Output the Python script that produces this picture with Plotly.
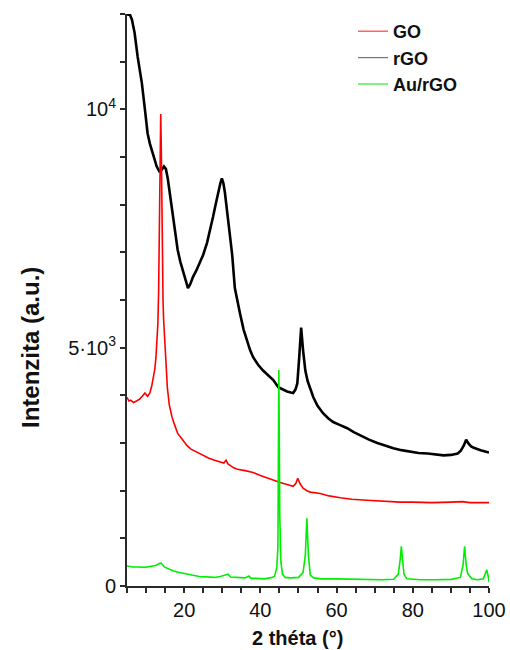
import plotly.graph_objects as go

# XRD patterns: 2θ (degrees) vs. intensity (a.u.)
rgo_x = [5.0, 5.8, 6.3, 7.0, 7.8, 8.9, 9.7, 10.4, 11.0, 11.5, 12.2, 12.8, 13.5, 14.1, 14.7,
         15.2, 15.7, 16.2, 16.8, 17.6, 18.3, 19.0, 19.7, 20.4, 21.0, 21.6, 22.3, 23.2, 24.1,
         25.0, 26.0, 26.8, 27.6, 28.3, 28.9, 29.5, 29.9, 30.3, 30.7, 31.1, 31.5, 32.0, 32.6,
         33.3, 34.0, 34.7, 35.6, 36.5, 37.3, 38.1, 39.4, 40.7, 42.0, 43.4, 44.7, 46.0, 47.0,
         48.0, 48.6, 49.2, 49.7, 50.2, 50.7, 51.2, 51.8, 52.4, 53.1, 53.9, 55.0, 56.5, 57.8,
         59.1, 60.5, 61.8, 62.8, 64.5, 66.2, 68.5, 70.7, 72.8, 74.9, 77.0, 79.4, 81.5, 83.9,
         86.0, 88.1, 90.0, 91.8, 92.6, 93.4, 94.0, 94.6, 95.3, 96.0, 97.8, 99.0, 100.0]
rgo_y = [11990, 11980, 11880, 11600, 11100, 10550, 10000, 9500, 9280, 9150, 8950, 8800, 8700,
         8730, 8800, 8750, 8550, 8250, 8000, 7470, 7050, 6800, 6600, 6380, 6250, 6330, 6480,
         6620, 6780, 6950, 7200, 7450, 7750, 8020, 8250, 8450, 8550, 8450, 8250, 8000, 7700,
         7380, 6950, 6250, 5950, 5700, 5380, 5150, 4950, 4800, 4640, 4520, 4420, 4320, 4170,
         4110, 4080, 4060, 4050, 4120, 4250, 4800, 5420, 4950, 4520, 4300, 4150, 3960, 3780,
         3620, 3520, 3440, 3390, 3350, 3310, 3230, 3160, 3070, 3000, 2940, 2890, 2850, 2810,
         2790, 2780, 2760, 2740, 2750, 2780, 2840, 2950, 3070, 2990, 2930, 2900, 2850, 2830,
         2800]

go_x = [5.0, 5.5, 6.0, 6.7, 7.5, 8.3, 9.0, 9.7, 10.4, 11.0, 11.5, 11.9, 12.3, 12.6, 12.9,
        13.1, 13.3, 13.5, 13.7, 13.85, 14.0, 14.15, 14.3, 14.45, 14.6, 14.9, 15.2, 15.6, 16.1,
        16.8, 17.5, 18.3, 19.5, 20.7, 21.8, 22.8, 24.0, 25.0, 26.5, 28.0, 29.4, 30.4, 31.0,
        31.5, 33.0, 34.0, 36.0, 38.1, 40.0, 42.6, 44.0, 45.2, 47.0, 48.6, 49.3, 49.8, 50.4,
        51.2, 52.2, 53.1, 55.7, 58.0, 61.0, 64.0, 68.0, 72.0, 76.7, 80.0, 85.0, 90.0, 93.0,
        95.0, 100.0]
go_y = [3960, 3880, 3900, 3850, 3880, 3920, 3980, 4050, 3980, 4050, 4200, 4350, 4550, 4800,
        5150, 5500, 6200, 7300, 8600, 9900, 9200, 7600, 6600, 6000, 5600, 5150, 4700, 4150,
        3800, 3550, 3380, 3200, 3080, 2950, 2870, 2830, 2780, 2730, 2680, 2640, 2600, 2580,
        2640, 2560, 2480, 2450, 2420, 2380, 2320, 2240, 2200, 2170, 2130, 2090, 2150, 2260,
        2150, 2050, 2000, 1970, 1940, 1890, 1850, 1820, 1800, 1780, 1760, 1760, 1750, 1760,
        1770, 1750, 1750]

au_x = [5.0, 6.5, 8.0, 9.5, 11.0, 12.5, 13.5, 14.0, 14.8, 15.7, 17.0, 18.5, 20.0, 22.0, 24.0,
        26.0, 28.0, 29.5, 30.8, 31.5, 32.2, 34.0, 36.0, 37.0, 37.5, 39.0, 41.0, 42.5, 43.7,
        44.3, 44.6, 44.85, 45.1, 45.4, 45.8, 46.5, 48.0, 50.0, 51.2, 51.8, 52.2, 52.6, 53.1,
        54.0, 56.0, 60.0, 64.0, 68.0, 72.0, 75.0, 76.2, 76.7, 77.0, 77.3, 77.7, 78.5, 82.0,
        86.0, 90.0, 92.5, 93.2, 93.6, 94.0, 94.4, 95.5, 97.0, 98.5, 99.1, 99.4, 99.8, 100.0]
au_y = [420, 400, 400, 390, 410, 430, 470, 480, 400, 360, 320, 290, 260, 230, 200, 190, 180,
        200, 230, 250, 190, 180, 170, 210, 160, 160, 150, 170, 200, 380, 800, 4530, 1450, 500,
        250, 180, 170, 180, 280, 650, 1420, 650, 230, 170, 150, 150, 140, 130, 130, 140, 250,
        560, 830, 560, 240, 150, 130, 130, 140, 180, 450, 830, 450, 260, 150, 130, 150, 270,
        340, 200, 80]

y_tickvals = [0, 5000, 10000]
y_ticktext = ["0", "5·10<sup>3</sup>", "10<sup>4</sup>"]

series_names = ["GO", "rGO", "Au/rGO"]
legend_colors = ["#ff4a4a", "#7a7a7a", "#3dea3d"]

FONT = "Liberation Sans, Arial, sans-serif"
AXIS_COLOR = "#2a2a2a"
TEXT_COLOR = "#111111"

fig = go.Figure()
# data curves (rGO underneath, then GO and Au/rGO on top)
fig.add_trace(go.Scatter(x=rgo_x, y=rgo_y, mode="lines", showlegend=False,
                         line=dict(color="#000000", width=2.6)))
fig.add_trace(go.Scatter(x=go_x, y=go_y, mode="lines", showlegend=False,
                         line=dict(color="#ff0000", width=1.6)))
fig.add_trace(go.Scatter(x=au_x, y=au_y, mode="lines", showlegend=False,
                         line=dict(color="#00ee00", width=1.6)))
# legend keys drawn as thin sample lines
for name, col in zip(series_names, legend_colors):
    fig.add_trace(go.Scatter(x=[None], y=[None], mode="lines", name=name,
                             line=dict(color=col, width=1.3)))

fig.update_layout(
    width=510, height=650,
    margin=dict(l=127, r=21, t=14, b=64, autoexpand=False),
    paper_bgcolor="white", plot_bgcolor="white",
    font=dict(family=FONT, color=TEXT_COLOR),
    showlegend=True,
    legend=dict(x=(353 - 127) / 362, y=1 + 1 / 572, xanchor="left", yanchor="top",
                bgcolor="rgba(0,0,0,0)", font=dict(size=18, weight="bold", color=TEXT_COLOR),
                itemwidth=30, tracegroupgap=0),
    xaxis=dict(range=[5, 100], showgrid=False, zeroline=False, automargin=False,
               showline=True, linecolor=AXIS_COLOR, linewidth=2,
               tickmode="linear", tick0=0, dtick=20,
               ticks="outside", ticklen=5, tickwidth=1.5, tickcolor=AXIS_COLOR,
               tickfont=dict(size=20, family=FONT, color=TEXT_COLOR),
               minor=dict(dtick=5, tick0=0, ticks="outside", ticklen=5, tickwidth=1.5,
                          tickcolor=AXIS_COLOR, showgrid=False)),
    yaxis=dict(range=[0, 12000], showgrid=False, zeroline=False, automargin=False,
               showline=True, linecolor=AXIS_COLOR, linewidth=2,
               tickmode="array", tickvals=y_tickvals, ticktext=y_ticktext,
               ticks="outside", ticklen=5, tickwidth=1.5, tickcolor=AXIS_COLOR,
               tickfont=dict(size=20, family=FONT, color=TEXT_COLOR),
               minor=dict(dtick=1000, tick0=0, ticks="outside", ticklen=5, tickwidth=1.5,
                          tickcolor=AXIS_COLOR, showgrid=False)),
)

# axis titles
fig.add_annotation(text="2 théta (°)", xref="paper", yref="paper",
                   x=(297 - 127) / 362, y=-(638 - 586) / 572, xanchor="center", yanchor="middle",
                   showarrow=False, font=dict(size=20, weight="bold", family=FONT, color=TEXT_COLOR))
fig.add_annotation(text="Intenzita (a.u.)", xref="paper", yref="paper", textangle=-90,
                   x=-(127 - 30) / 362, y=1 - (348 - 14) / 572, xanchor="center", yanchor="middle",
                   showarrow=False, font=dict(size=24, weight="bold", family=FONT, color=TEXT_COLOR))

fig.write_html("out.html")
